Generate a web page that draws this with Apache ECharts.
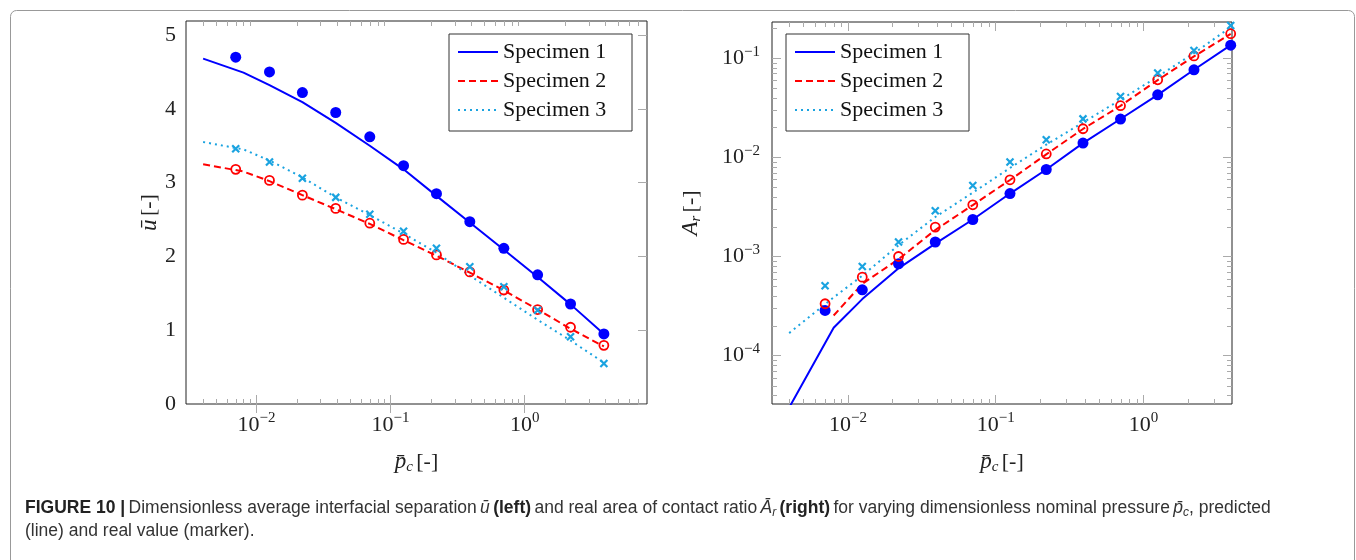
<!DOCTYPE html>
<html><head><meta charset="utf-8">
<script src="https://cdn.jsdelivr.net/npm/echarts@6/dist/echarts.min.js"></script>
<style>html,body{margin:0;padding:0;background:#fff;} #c{width:1356px;height:560px;}</style>
</head><body><div id="c"></div>
<script>
// ---------- data ----------
const seriesNames = ['Specimen 1', 'Specimen 2', 'Specimen 3'];
// dimensionless nominal pressure of the measured values (markers)
const pMeasured = [0.007, 0.0125, 0.022, 0.039, 0.07, 0.125, 0.22, 0.39, 0.7, 1.25, 2.2, 3.9];
// dimensionless nominal pressure of the predicted values (lines)
const pPredicted = [0.004, 0.008, 0.0125, 0.022, 0.039, 0.07, 0.125, 0.22, 0.39, 0.7, 1.25, 2.2, 3.9];

// left: average interfacial separation u
const uPred1 = [4.68, 4.49, 4.32, 4.09, 3.81, 3.50, 3.18, 2.82, 2.46, 2.09, 1.72, 1.35, 0.95];
const uPred2 = [3.25, 3.15, 3.02, 2.83, 2.64, 2.44, 2.22, 2.01, 1.78, 1.54, 1.28, 1.02, 0.78];
const uPred3 = [3.55, 3.45, 3.30, 3.07, 2.80, 2.56, 2.31, 2.05, 1.74, 1.44, 1.14, 0.86, 0.56];
const uMeas1 = [4.70, 4.50, 4.22, 3.95, 3.62, 3.23, 2.85, 2.47, 2.11, 1.75, 1.355, 0.95];
const uMeas2 = [3.18, 3.03, 2.83, 2.65, 2.45, 2.23, 2.02, 1.79, 1.545, 1.28, 1.04, 0.795];
const uMeas3 = [3.46, 3.28, 3.06, 2.80, 2.57, 2.34, 2.11, 1.86, 1.59, 1.27, 0.91, 0.55];

// right: real area of contact ratio A_r
const arPred1 = [3.0e-5, 1.91e-4, 3.72e-4, 7.6e-4, 1.35e-3, 2.36e-3, 4.31e-3, 7.53e-3, 1.39e-2, 2.43e-2, 4.26e-2, 7.62e-2, 0.135];
const arPred2 = [null, 2.54e-4, 5.3e-4, 9.4e-4, 1.85e-3, 3.3e-3, 5.9e-3, 1.07e-2, 1.93e-2, 3.3e-2, 6.0e-2, 0.104, 0.175];
const arPred3 = [1.69e-4, 3.87e-4, 6.4e-4, 1.3e-3, 2.5e-3, 4.4e-3, 7.8e-3, 1.34e-2, 2.24e-2, 3.8e-2, 6.5e-2, 0.112, 0.205];
const arMeas1 = [2.86e-4, 4.61e-4, 8.43e-4, 1.40e-3, 2.36e-3, 4.31e-3, 7.53e-3, 1.39e-2, 2.43e-2, 4.26e-2, 7.62e-2, 0.135];
const arMeas2 = [3.34e-4, 6.19e-4, 1.0e-3, 1.98e-3, 3.32e-3, 5.93e-3, 1.08e-2, 1.94e-2, 3.31e-2, 6.04e-2, 0.105, 0.176];
const arMeas3 = [5.07e-4, 7.93e-4, 1.40e-3, 2.89e-3, 5.20e-3, 8.95e-3, 1.50e-2, 2.44e-2, 4.10e-2, 7.06e-2, 0.119, 0.213];

// tick values
const uTicks = [0, 1, 2, 3, 4, 5];
const pTicks = [0.01, 0.1, 1];
const arTicks = [1e-4, 1e-3, 1e-2, 1e-1];

// ---------- helpers ----------
const SERIF = 'Liberation Serif';
const TICK = '#aaaaaa';
const COLORS = ['#0000ff', '#ff0000', '#1aa3e0'];
const DASH = ['solid', [7, 4], [2, 4]];

function minorTicks(loExp, hiExp) {
  const out = [];
  for (let e = loExp; e <= hiExp; e++) for (let m = 2; m <= 9; m++) out.push(+(m * Math.pow(10, e)).toPrecision(3));
  return out;
}
const xMinor = minorTicks(-3, 0);
const yMinorR = minorTicks(-5, -1);

const supRich = {
  b: {fontFamily: SERIF, fontSize: 22, color: '#222', lineHeight: 28},
  s: {fontFamily: SERIF, fontSize: 15, color: '#222', verticalAlign: 'top', lineHeight: 15}
};
function logFmt(v) {
  const e = Math.log10(v);
  const r = Math.round(e);
  if (Math.abs(e - r) > 1e-6) return '';
  return '{b|10}{s|' + (r < 0 ? '\u2212' + (-r) : r) + '}';
}
const nameRich = {
  i: {fontFamily: SERIF, fontStyle: 'italic', fontSize: 23, color: '#222', lineHeight: 26},
  sub: {fontFamily: SERIF, fontStyle: 'italic', fontSize: 15, color: '#222', verticalAlign: 'bottom', lineHeight: 16},
  n: {fontFamily: SERIF, fontSize: 22, color: '#222', lineHeight: 26}
};

function xMinorSeries(xi, yi, yRef) {
  return {
    type: 'custom', xAxisIndex: xi, yAxisIndex: yi, silent: true, z: 1, clip: false,
    data: xMinor.map(v => [v, yRef]),
    renderItem(params, api) {
      const cs = params.coordSys;
      const x = Math.round(api.coord([api.value(0), api.value(1)])[0]) + 0.5;
      if (x < cs.x + 1 || x > cs.x + cs.width - 1) return {type: 'group', children: []};
      const st = {stroke: TICK, lineWidth: 1};
      return {type: 'group', children: [
        {type: 'line', shape: {x1: x, y1: cs.y + cs.height, x2: x, y2: cs.y + cs.height - 5}, style: st},
        {type: 'line', shape: {x1: x, y1: cs.y, x2: x, y2: cs.y + 5}, style: st}
      ]};
    }
  };
}
function yMinorSeries(xi, yi, xRef) {
  return {
    type: 'custom', xAxisIndex: xi, yAxisIndex: yi, silent: true, z: 1, clip: false,
    data: yMinorR.map(v => [xRef, v]),
    renderItem(params, api) {
      const cs = params.coordSys;
      const y = Math.round(api.coord([api.value(0), api.value(1)])[1]) + 0.5;
      if (y < cs.y + 1 || y > cs.y + cs.height - 1) return {type: 'group', children: []};
      const st = {stroke: TICK, lineWidth: 1};
      return {type: 'group', children: [
        {type: 'line', shape: {x1: cs.x, y1: y, x2: cs.x + 5, y2: y}, style: st},
        {type: 'line', shape: {x1: cs.x + cs.width, y1: y, x2: cs.x + cs.width - 5, y2: y}, style: st}
      ]};
    }
  };
}

const xMarkPath = 'path://M0,0L10,10M10,0L0,10';

function lineSeries(i, xs, ys, xi, yi) {
  return {
    type: 'line', name: seriesNames[i], xAxisIndex: xi, yAxisIndex: yi,
    data: xs.map((p, k) => [p, ys[k]]),
    symbol: 'none', smooth: false, z: 3,
    lineStyle: {color: COLORS[i], width: 2, type: DASH[i]},
    itemStyle: {color: COLORS[i]},
    emphasis: {disabled: true}
  };
}
function markerSeries(i, xs, ys, xi, yi) {
  const base = {
    type: 'scatter', name: seriesNames[i] + ' (measured)', xAxisIndex: xi, yAxisIndex: yi,
    data: xs.map((p, k) => [p, ys[k]]), z: 4, emphasis: {disabled: true}
  };
  if (i === 0) return Object.assign(base, {symbol: 'circle', symbolSize: 11, itemStyle: {color: COLORS[0], opacity: 1}});
  if (i === 1) return Object.assign(base, {symbol: 'circle', symbolSize: 9,
    itemStyle: {color: 'rgba(0,0,0,0)', borderColor: COLORS[1], borderWidth: 1.8, opacity: 1}});
  return Object.assign(base, {symbol: xMarkPath, symbolSize: 7,
    itemStyle: {color: 'rgba(0,0,0,0)', borderColor: COLORS[2], borderWidth: 2.2, opacity: 1}});
}

function mainX(gi, min, max) {
  return {
    type: 'log', logBase: 10, gridIndex: gi, min: min, max: max, position: 'bottom',
    axisLine: {show: false}, splitLine: {show: false},
    axisTick: {show: true, inside: true, length: 9, lineStyle: {color: TICK}, customValues: pTicks},
    axisLabel: {formatter: logFmt, rich: supRich, margin: 7, customValues: pTicks},
    name: '{i|p\u0304}{sub|c} {n|[-]}', nameLocation: 'middle', nameGap: 45,
    nameTextStyle: {rich: nameRich}
  };
}
function mirrorX(gi, min, max) {
  return {
    type: 'log', logBase: 10, gridIndex: gi, min: min, max: max, position: 'top',
    axisLine: {show: false}, splitLine: {show: false}, axisLabel: {show: false},
    axisTick: {show: true, inside: true, length: 9, lineStyle: {color: TICK}, customValues: pTicks}
  };
}

const legendBase = {
  orient: 'vertical', data: seriesNames, itemWidth: 40, itemHeight: 14, itemGap: 7,
  padding: [7, 12, 10, 8], backgroundColor: '#fff', borderColor: '#333', borderWidth: 1,
  textStyle: {fontFamily: SERIF, fontSize: 22, color: '#111', lineHeight: 22, width: 117},
  itemStyle: {opacity: 0}, selectedMode: false
};

const option = {
  animation: false,
  backgroundColor: '#fff',
  grid: [
    {left: 186, top: 21, width: 461, height: 383, show: true, borderColor: '#222', borderWidth: 1, backgroundColor: 'transparent'},
    {left: 772, top: 22, width: 460, height: 382, show: true, borderColor: '#222', borderWidth: 1, backgroundColor: 'transparent'}
  ],
  xAxis: [
    mainX(0, 0.00298, 8.18), mirrorX(0, 0.00298, 8.18),
    mainX(1, 0.00306, 3.98), mirrorX(1, 0.00306, 3.98)
  ],
  yAxis: [
    {type: 'value', gridIndex: 0, min: uTicks[0], max: 5.19, interval: 1,
     axisLine: {show: false}, splitLine: {show: false}, axisTick: {show: false},
     axisLabel: {formatter: v => (uTicks.indexOf(v) >= 0 ? String(v) : ''), fontFamily: SERIF, fontSize: 22, color: '#222', margin: 10, customValues: uTicks},
     name: '{i|\u016b} {n|[-]}', nameLocation: 'middle', nameGap: 21, nameTextStyle: {rich: nameRich}},
    {type: 'value', gridIndex: 0, min: uTicks[0], max: 5.19, interval: 1, position: 'right',
     axisLine: {show: false}, splitLine: {show: false}, axisLabel: {show: false},
     axisTick: {show: true, inside: true, length: 9, lineStyle: {color: TICK}, customValues: uTicks}},
    {type: 'log', logBase: 10, gridIndex: 1, min: 3.26e-5, max: 0.231,
     axisLine: {show: false}, splitLine: {show: false},
     axisTick: {show: true, inside: true, length: 9, lineStyle: {color: TICK}, customValues: arTicks},
     axisLabel: {formatter: logFmt, rich: supRich, margin: 12, customValues: arTicks},
     name: '{i|A}{sub|r} {n|[-]}', nameLocation: 'middle', nameGap: 68, nameTextStyle: {rich: nameRich}},
    {type: 'log', logBase: 10, gridIndex: 1, min: 3.26e-5, max: 0.231, position: 'right',
     axisLine: {show: false}, splitLine: {show: false}, axisLabel: {show: false},
     axisTick: {show: true, inside: true, length: 9, lineStyle: {color: TICK}, customValues: arTicks}}
  ],
  legend: [
    Object.assign({}, legendBase, {left: 449, top: 34}),
    Object.assign({}, legendBase, {left: 786, top: 34})
  ],
  series: [
    xMinorSeries(0, 0, 2.5),
    xMinorSeries(2, 2, 1e-2),
    yMinorSeries(2, 2, 0.1),
    lineSeries(0, pPredicted, uPred1, 0, 0),
    lineSeries(1, pPredicted, uPred2, 0, 0),
    lineSeries(2, pPredicted, uPred3, 0, 0),
    markerSeries(0, pMeasured, uMeas1, 0, 0),
    markerSeries(1, pMeasured, uMeas2, 0, 0),
    markerSeries(2, pMeasured, uMeas3, 0, 0),
    lineSeries(0, pPredicted, arPred1, 2, 2),
    lineSeries(1, pPredicted, arPred2, 2, 2),
    lineSeries(2, pPredicted, arPred3, 2, 2),
    markerSeries(0, pMeasured, arMeas1, 2, 2),
    markerSeries(1, pMeasured, arMeas2, 2, 2),
    markerSeries(2, pMeasured, arMeas3, 2, 2)
  ],
  graphic: [
    {type: 'rect', left: 8, top: 8, shape: {width: 1344, height: 600, r: 6},
     style: {fill: 'none', stroke: '#999', lineWidth: 1}, silent: true, z: -10},
    {type: 'text', left: 25, top: 499, silent: true,
     style: {
       text: '{b|FIGURE 10 |} {r|Dimensionless average interfacial separation} {i|\u016b} {b|(left)} {r|and real area of contact ratio} {i|\u0100}{sub|r} {b|(right)} {r|for varying dimensionless nominal pressure} {i|p\u0304}{sub|c}{r|, predicted}',
       rich: {
         b: {fontFamily: 'Liberation Sans', fontWeight: 'bold', fontSize: 17.5, fill: '#222', lineHeight: 22},
         r: {fontFamily: 'Liberation Sans', fontSize: 17.5, fill: '#333', lineHeight: 22},
         i: {fontFamily: 'Liberation Sans', fontStyle: 'italic', fontSize: 17.5, fill: '#333', lineHeight: 22},
         sub: {fontFamily: 'Liberation Sans', fontStyle: 'italic', fontSize: 12, fill: '#333', verticalAlign: 'bottom', lineHeight: 13}
       }
     }},
    {type: 'text', left: 25, top: 522, silent: true,
     style: {text: '(line) and real value (marker).', fontFamily: 'Liberation Sans', fontSize: 17.5, fill: '#333'}}
  ]
};

const chart = echarts.init(document.getElementById('c'), null, {renderer: 'canvas'});
chart.setOption(option);
</script>
</body></html>
